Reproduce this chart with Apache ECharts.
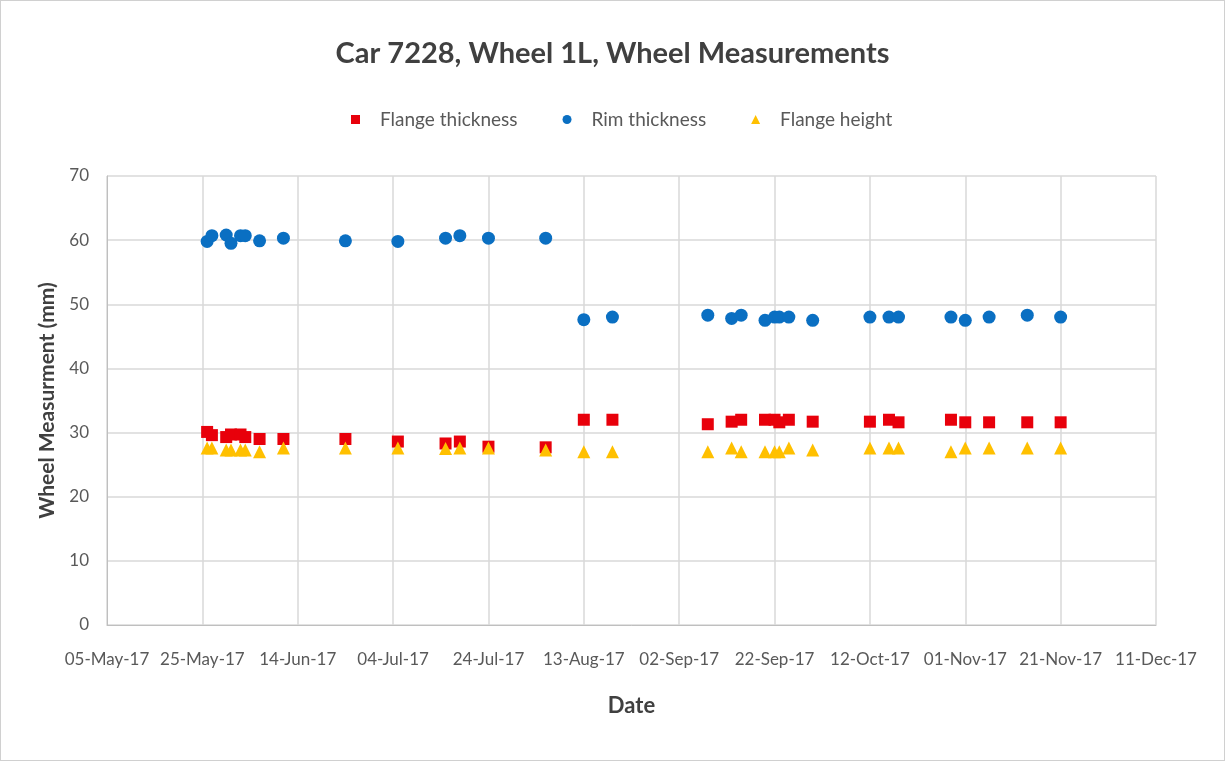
<!DOCTYPE html>
<html>
<head>
<meta charset="utf-8">
<script src="https://cdn.jsdelivr.net/npm/echarts@6/dist/echarts.min.js"></script>
<style>
  html, body { margin: 0; padding: 0; background: #fff; }
  #main { width: 1225px; height: 761px; box-sizing: border-box; border: 1px solid #d0d0d0; }
</style>
</head>
<body>
<div id="main"></div>
<script>
// measurement dates (dd-MMM-yy)
var dates = [
  '26-May-17', '27-May-17', '30-May-17', '31-May-17', '02-Jun-17', '03-Jun-17',
  '06-Jun-17', '11-Jun-17', '24-Jun-17', '05-Jul-17', '15-Jul-17', '18-Jul-17',
  '24-Jul-17', '05-Aug-17', '13-Aug-17', '19-Aug-17', '08-Sep-17', '13-Sep-17',
  '15-Sep-17', '20-Sep-17', '22-Sep-17', '23-Sep-17', '25-Sep-17', '30-Sep-17',
  '12-Oct-17', '16-Oct-17', '18-Oct-17', '29-Oct-17', '01-Nov-17', '06-Nov-17',
  '14-Nov-17', '21-Nov-17'
];
var flangeThickness = [
  30.1, 29.6, 29.3, 29.7, 29.7, 29.3, 29.0, 29.0, 29.0, 28.6, 28.3, 28.6,
  27.8, 27.7, 32.0, 32.0, 31.3, 31.7, 32.0, 32.0, 32.0, 31.6, 32.0, 31.7,
  31.7, 32.0, 31.6, 32.0, 31.6, 31.6, 31.6, 31.6
];
var rimThickness = [
  59.8, 60.7, 60.8, 59.5, 60.7, 60.7, 59.9, 60.3, 59.9, 59.8, 60.3, 60.7,
  60.3, 60.3, 47.6, 48.0, 48.3, 47.8, 48.3, 47.5, 48.0, 48.0, 48.0, 47.5,
  48.0, 48.0, 48.0, 48.0, 47.5, 48.0, 48.3, 48.0
];
var flangeHeight = [
  27.6, 27.6, 27.3, 27.3, 27.3, 27.3, 27.0, 27.6, 27.6, 27.6, 27.5, 27.6,
  27.6, 27.3, 27.0, 27.0, 27.0, 27.6, 27.0, 27.0, 27.0, 27.0, 27.6, 27.3,
  27.6, 27.6, 27.6, 27.0, 27.6, 27.6, 27.6, 27.6
];
var axisStart = '05-May-17';
var axisEnd = '11-Dec-17';
var tickDays = 20;

var MONTHS = ['Jan','Feb','Mar','Apr','May','Jun','Jul','Aug','Sep','Oct','Nov','Dec'];
function parseDate(s) {
  var p = s.split('-');
  return Date.UTC(2000 + (+p[2]), MONTHS.indexOf(p[1]), +p[0]);
}
var DAY = 86400000;
var t0 = parseDate(axisStart);
function dayOf(s) { return Math.round((parseDate(s) - t0) / DAY); }
function fmtDay(d) {
  var dt = new Date(t0 + d * DAY);
  var dd = dt.getUTCDate();
  return (dd < 10 ? '0' : '') + dd + '-' + MONTHS[dt.getUTCMonth()] + '-' + String(dt.getUTCFullYear()).slice(2);
}
function pairs(vals) {
  return dates.map(function (d, i) { return [dayOf(d), vals[i]]; });
}

var font = 'Lato, "Open Sans", sans-serif';
var chart = echarts.init(document.getElementById('main'));
chart.setOption({
  animation: false,
  textStyle: { fontFamily: font },
  title: {
    text: 'Car 7228, Wheel 1L, Wheel Measurements',
    left: 'center',
    top: 33,
    textStyle: { fontSize: 29, fontWeight: 'bold', color: '#404040', fontFamily: font }
  },
  legend: {
    top: 104,
    left: 345,
    itemWidth: 9,
    itemHeight: 9,
    itemGap: 45,
    textStyle: { fontSize: 19, color: '#595959', padding: [0, 0, 0, 15] },
    data: [
      { name: 'Flange thickness', icon: 'rect' },
      { name: 'Rim thickness', icon: 'circle' },
      { name: 'Flange height', icon: 'triangle' }
    ]
  },
  grid: { left: 106, right: 68, top: 175, bottom: 135 },
  xAxis: {
    type: 'value',
    min: 0,
    max: dayOf(axisEnd),
    interval: tickDays,
    name: 'Date',
    nameLocation: 'middle',
    nameGap: 70,
    nameTextStyle: { fontSize: 22, fontWeight: 'bold', color: '#404040' },
    axisLine: { show: true, lineStyle: { color: '#bfbfbf' } },
    axisTick: { show: false },
    axisLabel: { fontSize: 17, color: '#595959', margin: 26, formatter: fmtDay },
    splitLine: { show: true, lineStyle: { color: '#d9d9d9', width: 1.5 } }
  },
  yAxis: {
    type: 'value',
    min: 0,
    max: 70,
    interval: 10,
    name: 'Wheel Measurment (mm)',
    nameLocation: 'middle',
    nameGap: 49,
    nameTextStyle: { fontSize: 21, fontWeight: 'bold', color: '#404040' },
    axisLine: { show: true, lineStyle: { color: '#bfbfbf' } },
    axisTick: { show: false },
    axisLabel: { fontSize: 17, color: '#595959', margin: 18 },
    splitLine: { show: true, lineStyle: { color: '#d9d9d9', width: 1.5 } }
  },
  series: [
    {
      name: 'Flange thickness', type: 'scatter', symbol: 'rect', symbolSize: 12,
      itemStyle: { color: '#e8000b', opacity: 1 }, data: pairs(flangeThickness)
    },
    {
      name: 'Rim thickness', type: 'scatter', symbol: 'circle', symbolSize: 13,
      itemStyle: { color: '#0a6fc2', opacity: 1 }, data: pairs(rimThickness)
    },
    {
      name: 'Flange height', type: 'scatter', symbol: 'triangle', symbolSize: 13,
      itemStyle: { color: '#ffc000', opacity: 1 }, data: pairs(flangeHeight)
    }
  ]
});
</script>
</body>
</html>
